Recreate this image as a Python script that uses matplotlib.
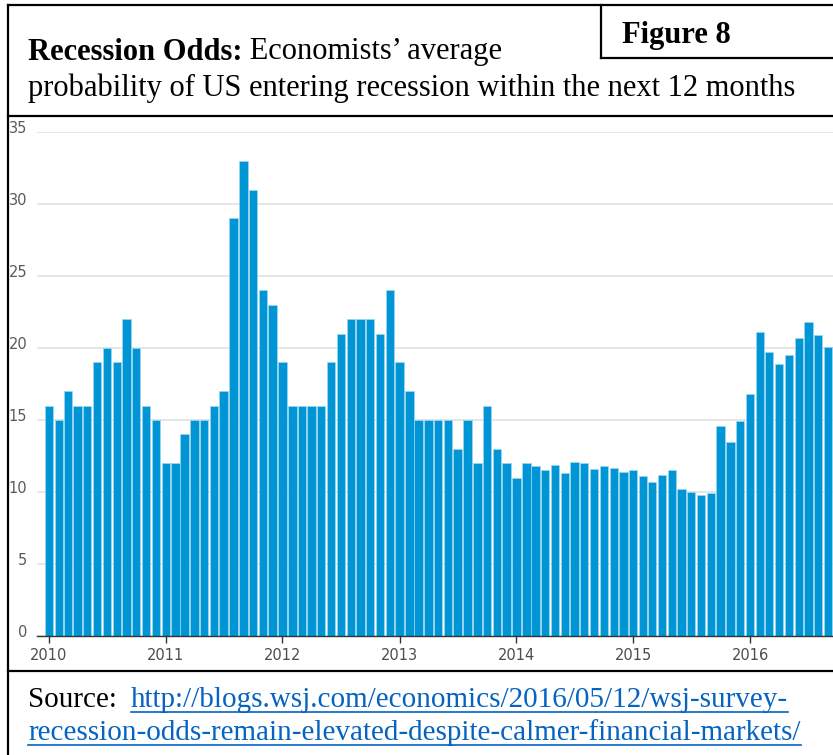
import matplotlib
matplotlib.use("Agg")
import matplotlib.pyplot as plt
import matplotlib.dates as mdates
import matplotlib.transforms as mtransforms
from matplotlib.lines import Line2D
import pandas as pd

# monthly survey readings, Jan 2010 - Sep 2016 (percent)
odds_2010 = [16, 15, 17, 16, 16, 19, 20, 19, 22, 20, 16, 15]
odds_2011 = [12, 12, 14, 15, 15, 16, 17, 29, 33, 31, 24, 23]
odds_2012 = [19, 16, 16, 16, 16, 19, 21, 22, 22, 22, 21, 24]
odds_2013 = [19, 17, 15, 15, 15, 15, 13, 15, 12, 16, 13, 12]
odds_2014 = [11, 12, 11.8, 11.5, 11.9, 11.3, 12.1, 12.0, 11.6, 11.8, 11.7, 11.4]
odds_2015 = [11.5, 11.1, 10.7, 11.2, 11.5, 10.2, 10.0, 9.8, 9.9, 14.6, 13.5, 14.9]
odds_2016 = [16.8, 21.1, 19.7, 18.9, 19.5, 20.7, 21.8, 20.9, 20.1]

odds = odds_2010 + odds_2011 + odds_2012 + odds_2013 + odds_2014 + odds_2015 + odds_2016
months = pd.date_range("2010-01-01", periods=len(odds), freq="MS")

y_ticks = [0, 5, 10, 15, 20, 25, 30, 35]
x_years = [2010, 2011, 2012, 2013, 2014, 2015, 2016]

title_bold = "Recession Odds:"
title_rest = " Economists\u2019 average"
title_line2 = "probability of US entering recession within the next 12 months"
fig_label = "Figure 8"
source_label = "Source:"
link_1 = "http://blogs.wsj.com/economics/2016/05/12/wsj-survey-"
link_2 = "recession-odds-remain-elevated-despite-calmer-financial-markets/"

W, H = 833, 755
fig = plt.figure(figsize=(W / 100, H / 100), dpi=100)


def fx(x):
    return x / W


def fy(y):
    return 1 - y / H


# chart area (pixel layout of the reference)
ax_left, ax_right, ax_top, ax_bottom = 37, 833, 132, 636
ax = fig.add_axes([fx(ax_left), fy(ax_bottom), fx(ax_right - ax_left), (ax_bottom - ax_top) / H])

ax.bar(months, odds, width=26, color="#0096D6", edgecolor="#9fd6f0", linewidth=0.5, zorder=2)

ax.set_ylim(0, 35)
ax.set_yticks(y_ticks)
ax.yaxis.grid(True, color="#e2e2e2", linewidth=1.2, zorder=0)
ax.set_axisbelow(True)

ax.set_xlim(mdates.date2num(pd.Timestamp("2010-01-01")) - 37,
            mdates.date2num(pd.Timestamp("2016-09-16")))
ax.set_xticks([mdates.date2num(pd.Timestamp(f"{y}-01-01")) for y in x_years])
ax.set_xticklabels([str(y) for y in x_years])

for side in ["top", "right", "left"]:
    ax.spines[side].set_visible(False)
ax.spines["bottom"].set_color("#333333")
ax.spines["bottom"].set_linewidth(1.0)

ax.tick_params(axis="x", length=5, width=1, color="#333333", pad=4,
               labelsize=10.5, labelcolor="#4d4d4d")
ax.tick_params(axis="y", length=0, pad=7, labelsize=10.5, labelcolor="#5a5a5a")

# y labels sit just above their gridline
shift = mtransforms.ScaledTranslation(0, 0.05, fig.dpi_scale_trans)
for lab in ax.get_yticklabels():
    lab.set_transform(lab.get_transform() + shift)

# frame lines
def hline(y, x0, x1, lw=1.6):
    fig.add_artist(Line2D([fx(x0), fx(x1)], [fy(y), fy(y)], color="black", linewidth=lw))


def vline(x, y0, y1, lw=1.6):
    fig.add_artist(Line2D([fx(x), fx(x)], [fy(y0), fy(y1)], color="black", linewidth=lw))


hline(5, 8, 833)
vline(8, 5, 755)
vline(601, 5, 58)
hline(58, 601, 833)
hline(116, 8, 833)
hline(671, 8, 833)

serif = "Liberation Serif"
fs = 22
fs_src = 21

fig.text(fx(622), fy(35), fig_label, family=serif, weight="bold", fontsize=fs,
         va="center", ha="left")

t1 = fig.text(fx(28), fy(52), title_bold, family=serif, weight="bold", fontsize=fs,
              va="center", ha="left")
fig.text(fx(28), fy(88), title_line2, family=serif, fontsize=fs, va="center", ha="left")

src = fig.text(fx(28), fy(700), source_label, family=serif, fontsize=fs_src, va="center",
               ha="left")
l2 = fig.text(fx(28), fy(733), link_2, family=serif, fontsize=fs_src, va="center", ha="left",
              color="#0563C1")

fig.canvas.draw()
r = fig.canvas.get_renderer()
bb = t1.get_window_extent(r)
fig.text(bb.x1 / W, fy(52), title_rest, family=serif, fontsize=fs, va="center", ha="left")

sb = src.get_window_extent(r)
l1 = fig.text((sb.x1 + 14) / W, fy(700), link_1, family=serif, fontsize=fs_src, va="center",
              ha="left", color="#0563C1")
fig.canvas.draw()

# underline the links
for t in (l1, l2):
    b = t.get_window_extent(r)
    yline = b.y0 + 1
    fig.add_artist(Line2D([b.x0 / W, b.x1 / W], [yline / H, yline / H],
                          color="#0563C1", linewidth=1.2))

fig.savefig("out.png", dpi=100)
